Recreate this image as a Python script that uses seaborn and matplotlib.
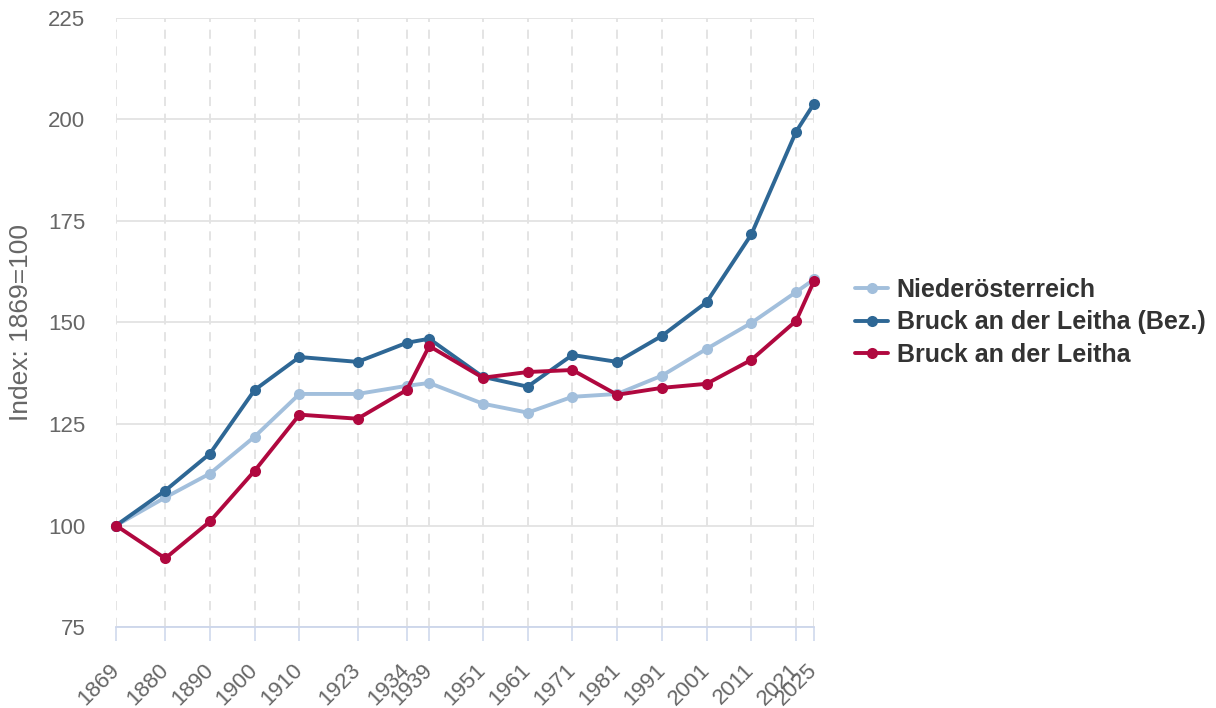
import matplotlib
matplotlib.use("Agg")
import matplotlib.pyplot as plt
import seaborn as sns
import pandas as pd

years = [1869, 1880, 1890, 1900, 1910, 1923, 1934, 1939, 1951, 1961,
         1971, 1981, 1991, 2001, 2011, 2021, 2025]
niederoesterreich = [100, 106.9, 112.8, 121.9, 132.4, 132.4, 134.4, 135.1, 130.0,
                     127.8, 131.7, 132.4, 136.9, 143.5, 149.9, 157.5, 160.6]
bruck_bezirk = [100, 108.6, 117.7, 133.4, 141.5, 140.3, 145.0, 146.0, 136.6,
                134.2, 142.0, 140.3, 146.7, 155.0, 171.7, 197.0, 203.9]
bruck_gemeinde = [100, 91.9, 101.0, 113.5, 127.3, 126.3, 133.4, 144.2, 136.4,
                  137.8, 138.3, 132.2, 133.9, 134.9, 140.8, 150.4, 160.2]

series_names = ["Niederösterreich", "Bruck an der Leitha (Bez.)", "Bruck an der Leitha"]
colors = ["#a2bfdc", "#2e6795", "#b0083f"]
y_ticks = [75, 100, 125, 150, 175, 200, 225]

df = pd.DataFrame({
    "Jahr": years * 3,
    "Index": niederoesterreich + bruck_bezirk + bruck_gemeinde,
    "Gebiet": [series_names[0]] * len(years) + [series_names[1]] * len(years)
              + [series_names[2]] * len(years),
})

sns.set_theme(style="white")
plt.rcParams["font.family"] = ["Liberation Sans", "DejaVu Sans"]

fig = plt.figure(figsize=(12.16, 7.08), dpi=100)
ax = fig.add_axes([0.0954, 0.1144, 0.574, 0.8602])

sns.lineplot(data=df, x="Jahr", y="Index", hue="Gebiet", hue_order=series_names,
             palette=colors, marker="o", markersize=8, markeredgewidth=0,
             linewidth=2.8, ax=ax, zorder=3, clip_on=False)

ax.set_xlim(1869, 2025)
ax.set_ylim(75, 225)
ax.set_yticks(y_ticks)
ax.set_xticks(years)
ax.set_xticklabels([str(y) for y in years], rotation=45, ha="right", va="center",
                   rotation_mode="anchor", fontsize=16, color="#666666")
ax.set_yticklabels([str(v) for v in y_ticks], fontsize=16, color="#666666")

ax.grid(axis="y", color="#e3e3e3", linewidth=1.3, linestyle="-")
ax.grid(axis="x", color="#dcdcdc", linewidth=1.1, linestyle=(0, (6, 5)))
ax.set_axisbelow(True)

for side in ["top", "right", "left"]:
    ax.spines[side].set_visible(False)
ax.spines["bottom"].set_color("#ccd6eb")
ax.spines["bottom"].set_linewidth(1.3)

ax.tick_params(axis="x", which="major", length=10, width=1.1, color="#ccd6eb",
               direction="out", pad=19, bottom=True)
ax.tick_params(axis="y", length=0, pad=22)

ax.set_xlabel("")
ax.set_ylabel("Index: 1869=100", fontsize=19, color="#666666", labelpad=11)

leg = ax.legend(loc="center left", bbox_to_anchor=(1.027, 0.5), frameon=False,
                prop={"weight": "bold", "size": 18}, handlelength=1.3,
                labelspacing=0.34, handletextpad=0.35)
for text in leg.get_texts():
    text.set_color("#333333")

fig.savefig("out.png", dpi=100)
